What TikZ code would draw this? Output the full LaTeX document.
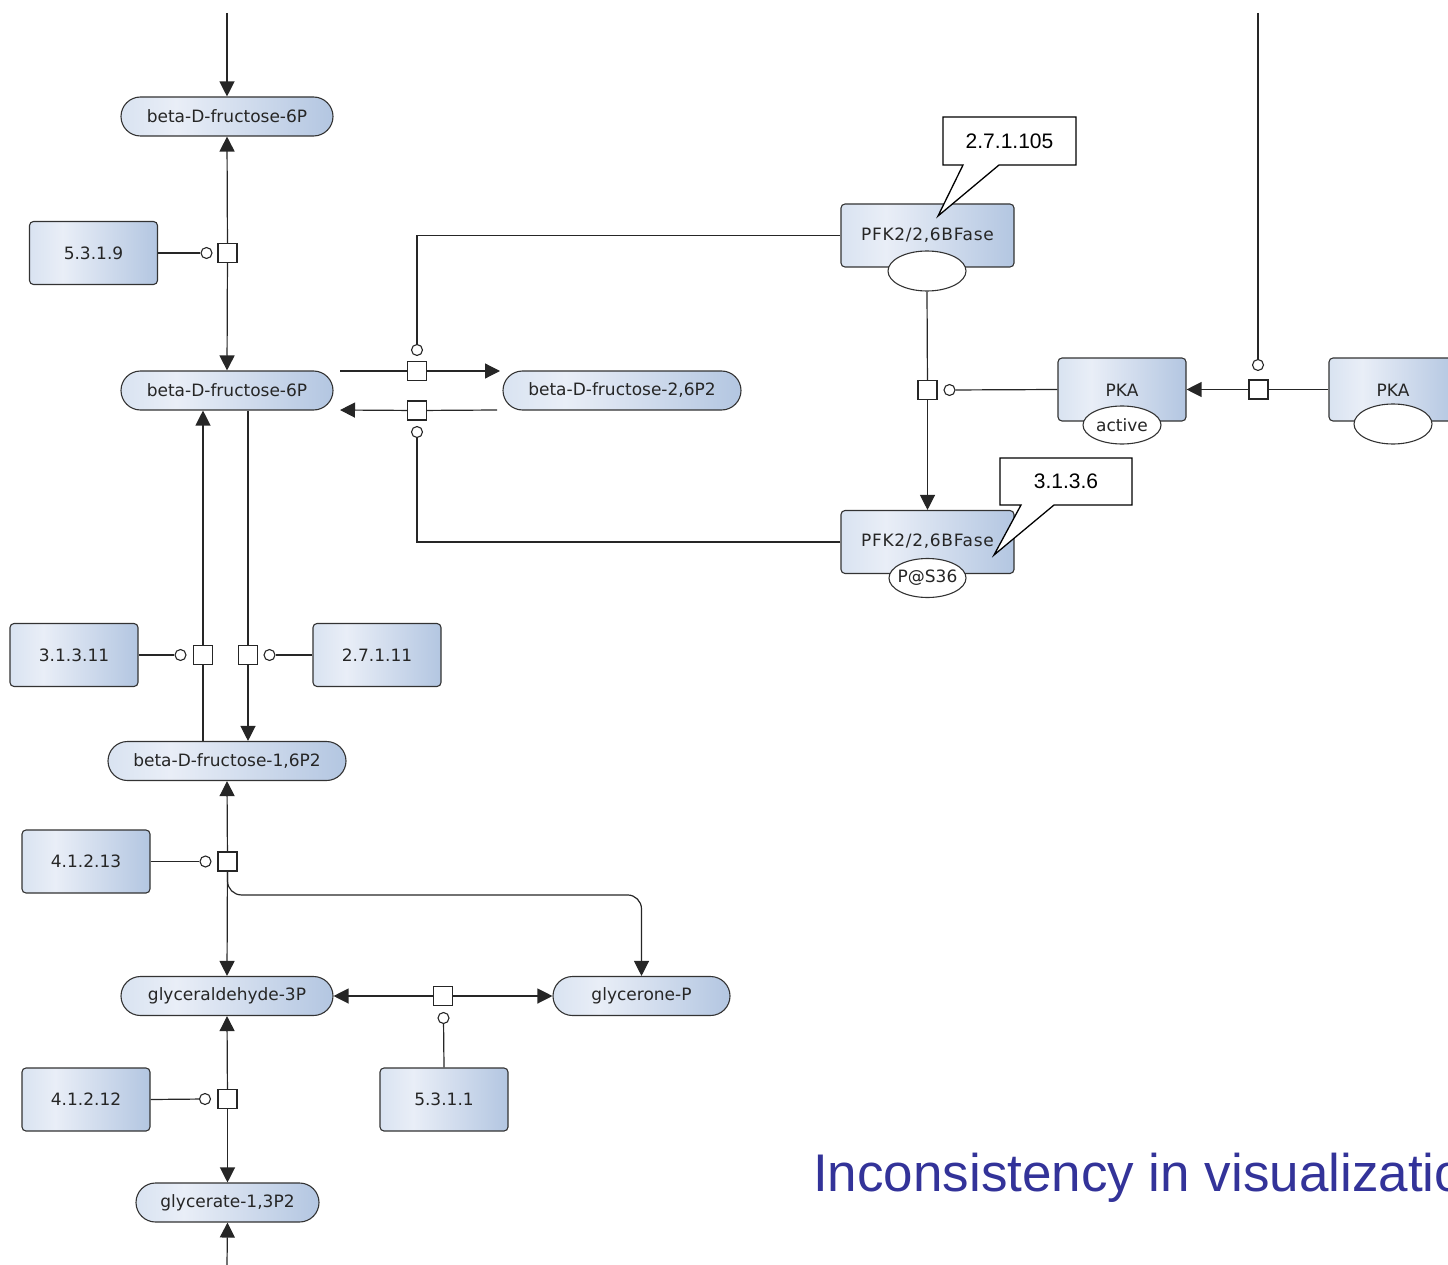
\documentclass[tikz,border=0pt]{standalone}
\usepackage{fontspec}
\setmainfont{DejaVu Sans}
\newfontfamily\titlefont{Liberation Sans}
\newfontfamily\calloutfont{Liberation Sans}
\usetikzlibrary{arrows.meta,shapes.geometric,calc}
\definecolor{edgec}{HTML}{333333}
\definecolor{nA}{HTML}{D9E3F1}
\definecolor{nB}{HTML}{E9EEF7}
\definecolor{nC}{HTML}{B3C6E1}
\definecolor{titleblue}{HTML}{333399}
\pgfdeclarehorizontalshading{nshade}{100bp}{color(0bp)=(nA); color(25bp)=(nA); color(38bp)=(nB); color(75bp)=(nC); color(100bp)=(nC)}
\tikzset{
  lab/.style={font=\fontsize{17}{20}\selectfont, text=black!85},
  pill/.style={lab, rectangle, rounded corners=19.5pt, draw=edgec, line width=1.1pt, shading=nshade, minimum height=39pt, inner sep=0pt},
  enz/.style={lab, rectangle, rounded corners=4pt, draw=edgec, line width=1.1pt, shading=nshade, minimum width=128pt, minimum height=63pt, inner sep=0pt},
  sq/.style={rectangle, draw=black!85, fill=white, line width=1.1pt, minimum size=19pt, inner sep=0pt},
  ci/.style={circle, draw=black!85, fill=white, line width=1.1pt, minimum size=11pt, inner sep=0pt},
  ell/.style={lab, ellipse, draw=edgec, fill=white, line width=1.1pt, minimum width=78pt, minimum height=40pt, inner sep=0pt},
  ln/.style={draw=black!85, line width=1.2pt},
  arr/.style={ln, -{Triangle[length=15pt,width=15pt]}},
  callout/.style={draw=black, fill=white, line width=1.3pt},
  spaced/.style={font=\addfontfeatures{LetterSpace=4}\fontsize{17}{20}\selectfont},
}
\begin{document}
\begin{tikzpicture}[x=1pt,y=-1pt]
\useasboundingbox (0,0) rectangle (1448,1265);
\clip (0,0) rectangle (1448,1265);

% metabolites
\node[pill, minimum width=212pt] (f6a) at (227,116.5) {beta-D-fructose-6P};
\node[pill, minimum width=212pt] (f6b) at (227,390.5) {beta-D-fructose-6P};
\node[pill, minimum width=238pt] (f26) at (622,390.5) {beta-D-fructose-2,6P2};
\node[pill, minimum width=238pt] (f16) at (227,761) {beta-D-fructose-1,6P2};
\node[pill, minimum width=212pt] (g3p) at (227,996) {glyceraldehyde-3P};
\node[pill, minimum width=177pt] (gp) at (641.5,996) {glycerone-P};
\node[pill, minimum width=183pt] (g13) at (227.5,1202.5) {glycerate-1,3P2};

% enzymes
\node[enz] (e5319) at (93.5,253) {5.3.1.9};
\node[enz] (e31311) at (74,655) {3.1.3.11};
\node[enz] (e27111) at (377,655) {2.7.1.11};
\node[enz] (e41213) at (86,861.5) {4.1.2.13};
\node[enz] (e5311) at (444,1099.5) {5.3.1.1};
\node[enz] (e41212) at (86,1099.5) {4.1.2.12};

% PFK2 boxes
\node[enz, minimum width=173pt] (pfk) at (927.5,235.5) {};
\node[lab, spaced] (pfkl) at (927.5,235.5) {PFK2/2,6BFase};
\node[ell] (pfke) at (927,271) {};
\node[enz, minimum width=173pt] (pfkp) at (927.5,542) {};
\node[lab, spaced] (pfkpl) at (927.5,541) {PFK2/2,6BFase};
\node[ell, minimum width=77pt, minimum height=39pt] (pfkpe) at (927.5,578) {};
\node[lab] (pfkpel) at (927.5,578) {P@S36};

% PKA boxes
\node[enz] (pka) at (1122,389.5) {};
\node[lab] (pkal) at (1122,390) {PKA};
\node[ell, minimum height=38pt] (pkae) at (1122,425) {};
\node[lab] (pkael) at (1122,425) {active};
\node[enz] (pkb) at (1393,389.5) {};
\node[lab] (pkbl) at (1393,390) {PKA};
\node[ell] (pkbe) at (1393,424) {};

% callouts
\draw[callout] (943,117) -- (1076,117) -- (1076,165) -- (999,165) -- (938,216) -- (963,165) -- (943,165) -- cycle;
\node[font=\calloutfont\fontsize{21}{24}\selectfont] (c1) at (1009.5,141) {2.7.1.105};
\draw[callout] (1000,458) -- (1132,458) -- (1132,505) -- (1054,505) -- (994,555) -- (1021,505) -- (1000,505) -- cycle;
\node[font=\calloutfont\fontsize{21}{24}\selectfont] (c2) at (1066,481.5) {3.1.3.6};

% free ends
\coordinate (top1) at (227,13);
\coordinate (top2) at (1258,13);
\coordinate (bot1) at (227,1265);
\coordinate (r1a) at (340,371);
\coordinate (r1b) at (500,371);
\coordinate (r2a) at (497,410);
\coordinate (r2b) at (340,410);

% reaction squares and modifier circles
\node[sq] (s1) at (227.5,253) {};
\node[ci] (k1) at (206.5,253) {};
\node[sq] (s2) at (417,371) {};
\node[ci] (k2) at (417,350) {};
\node[sq] (s3) at (417,410.5) {};
\node[ci] (k3) at (417,432) {};
\node[sq] (s4) at (927.5,390) {};
\node[ci] (k4) at (949.5,390) {};
\node[sq] (s5) at (1258.5,389.5) {};
\node[ci] (k5) at (1258,365) {};
\node[sq] (s6) at (203,655) {};
\node[ci] (k6) at (180.5,655) {};
\node[sq] (s7) at (248,655) {};
\node[ci] (k7) at (269.5,655) {};
\node[sq] (s8) at (227.5,861.5) {};
\node[ci] (k8) at (205.5,861.5) {};
\node[sq] (s9) at (443,996) {};
\node[ci] (k9) at (443.5,1018) {};
\node[sq] (s10) at (227.5,1099) {};
\node[ci] (k10) at (205,1099) {};

% connectors
\draw[arr] (top1) -- (f6a.north);
\draw[arr] (s1) -- (f6a.south);
\draw[arr] (s1) -- (f6b.north);
\draw[ln] (e5319.east) -- (k1);

\draw[ln] (r1a) -- (s2);
\draw[arr] (s2) -- (r1b);
\draw[ln] (r2a) -- (s3);
\draw[arr] (s3) -- (r2b);
\draw[ln] (pfk.west) -| (k2);
\draw[ln] (pfkp.west) -| (k3);

\draw[ln] (pfke.south) -- (s4);
\draw[arr] (s4) -- (pfkp.north);
\draw[ln] (pka.west) -- (k4);
\draw[arr] (s5) -- (pka.east);
\draw[ln] (pkb.west) -- (s5);
\draw[ln] (top2) -- (k5);

\draw[ln] (s6 |- f16.north) -- (s6);
\draw[arr] (s6) -- (s6 |- f6b.south);
\draw[ln] (s7 |- f6b.south) -- (s7);
\draw[arr] (s7) -- (s7 |- f16.north);
\draw[ln] (e31311.east) -- (k6);
\draw[ln] (e27111.west) -- (k7);

\draw[arr] (s8) -- (f16.south);
\draw[arr] (s8) -- (g3p.north);
\draw[arr, rounded corners=14pt] (s8.south) |- ([yshift=81pt]gp.north) -- (gp.north);
\draw[ln] (e41213.east) -- (k8);

\draw[arr] (s9) -- (g3p.east);
\draw[arr] (s9) -- (gp.west);
\draw[ln] (k9) -- (e5311.north);

\draw[arr] (s10) -- (g3p.south);
\draw[arr] (s10) -- (g13.north);
\draw[ln] (e41212.east) -- (k10);
\draw[arr] (bot1) -- (g13.south);

% title (cut off by the right edge, as in the reference)
\node[anchor=base west, inner sep=0pt, text=titleblue, font=\titlefont\fontsize{53}{60}\selectfont] (title) at (813,1191) {Inconsistency in visualization};
\end{tikzpicture}
\end{document}
